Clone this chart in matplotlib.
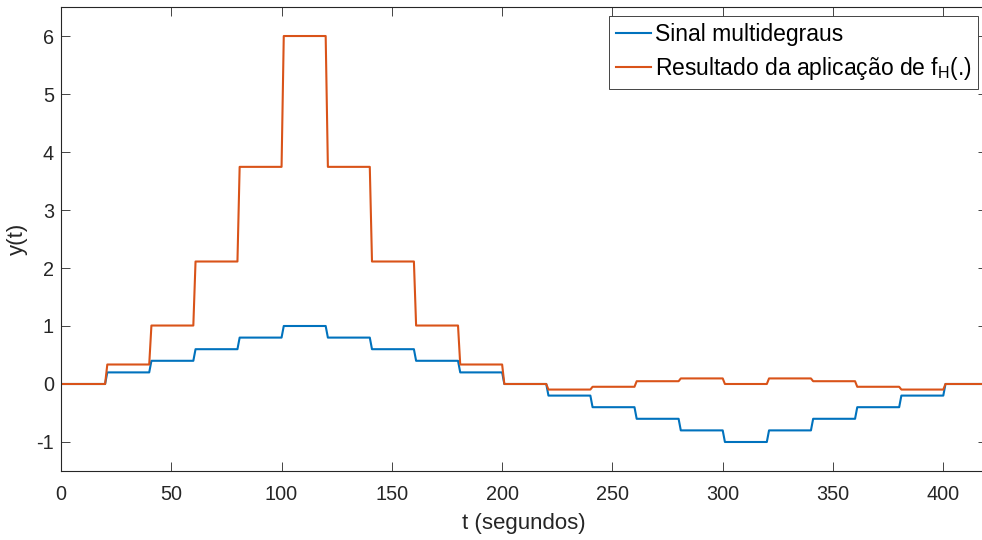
import numpy as np
from matplotlib import pyplot as plt

# step levels, one per 20 s interval
entrada = [0, 0.2, 0.4, 0.6, 0.8, 1.0, 0.8, 0.6, 0.4, 0.2, 0,
           -0.2, -0.4, -0.6, -0.8, -1.0, -0.8, -0.6, -0.4, -0.2, 0]
saida = [0, 0.336, 1.008, 2.112, 3.744, 6.0, 3.744, 2.112, 1.008, 0.336, 0,
         -0.096, -0.048, 0.048, 0.096, 0, 0.096, 0.048, -0.048, -0.096, 0]
duracao = 20
t = np.arange(0, len(entrada) * duracao + 1)

u = np.concatenate([[entrada[0]], np.repeat(entrada, duracao)])
y = np.concatenate([[saida[0]], np.repeat(saida, duracao)])

plt.rcParams['font.family'] = ['Liberation Sans', 'DejaVu Sans']
plt.rcParams['mathtext.fontset'] = 'custom'
plt.rcParams['mathtext.rm'] = 'Liberation Sans'
plt.rcParams['mathtext.it'] = 'Liberation Sans'
plt.rcParams['axes.unicode_minus'] = False
cinza = '#262626'

fig = plt.figure(figsize=(9.82, 5.40), dpi=100)
# right edge of the axes falls just outside the image, as in the original crop
ax = fig.add_axes([0.0621, 0.1278, 0.9434, 0.8592])

ax.plot(t, u, color='#0072BD', lw=1.5, label='Sinal multidegraus')
ax.plot(t, y, color='#D95319', lw=1.5, label=r'Resultado da aplicação de f$_\mathrm{H}$(.)')

ax.set_xlim(0, 420)
ax.set_ylim(-1.5, 6.5)
ax.set_xticks(np.arange(0, 401, 50))
ax.set_yticks(np.arange(-1, 7, 1))
ax.tick_params(direction='in', top=True, right=True, length=6.5, width=0.6,
               colors=cinza, labelsize=14.3, pad=5)
ax.tick_params(axis='x', pad=10)
for s in ax.spines.values():
    s.set_color(cinza)
    s.set_linewidth(0.8)

ax.set_xlabel('t (segundos)', fontsize=16, color=cinza, labelpad=6.5)
ax.set_ylabel('y(t)', fontsize=16, color=cinza, labelpad=6)

leg = ax.legend(loc='upper right', fontsize=16.5, fancybox=False, framealpha=1,
                edgecolor=cinza, handlelength=1.55, handletextpad=0.15,
                borderpad=0.3, labelspacing=0.4, borderaxespad=0.4)
leg.get_frame().set_linewidth(0.6)
for txt in leg.get_texts():
    txt.set_color('black')

plt.savefig('out.png', dpi=100)
